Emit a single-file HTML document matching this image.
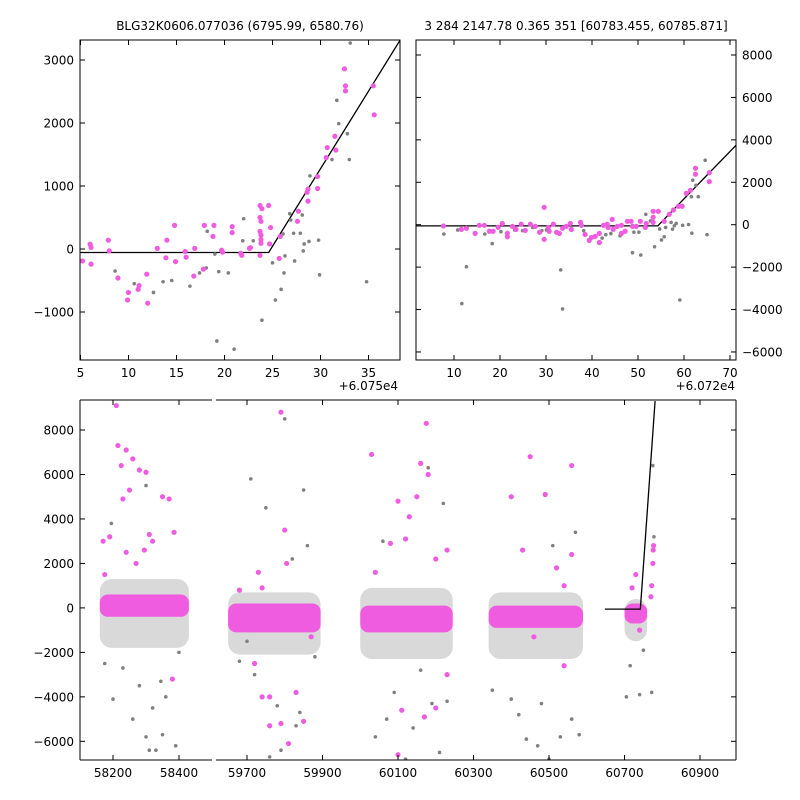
<!DOCTYPE html>
<html><head><meta charset="utf-8"><style>
body{margin:0;background:#fff}
svg{display:block;font-family:"DejaVu Sans","Liberation Sans",sans-serif}
text{font-size:12px;fill:#000}
</style></head><body>
<svg id="chart" width="800" height="800" viewBox="0 0 800 800" xmlns="http://www.w3.org/2000/svg">
<rect width="800" height="800" fill="#fff"/>
<text x="240" y="30" text-anchor="middle">BLG32K0606.077036 (6795.99, 6580.76)</text>
<text x="576" y="30" text-anchor="middle">3 284 2147.78 0.365 351 [60783.455, 60785.871]</text>
</svg>
<script>
// ---------- top-left panel data (x offset +6.075e4) ----------
const tlMagX=[5.2,6,6.1,6.1,7.9,8,8.9,10,9.9,11,11.1,11.9,12,13,13.9,14,14.8,14.9,15.9,16,16.9,16.8,17.8,17.9,18.8,18.9,19.7,19.8,20.8,20.8,21.7,21.8,22.6,22.7,23.7,23.9,23.7,23.8,23.7,23.8,23.8,23.8,23.7,24.6,24.8,24.7,25.8,25.7,27.7,27.6,28.7,28.6,28.7,29.7,29.7,30.6,30.7,31.5,31.6,32.5,32.6,32.6,35.5,35.6];
const tlMagY=[-190,75,25,-240,140,-30,-460,-690,-810,-640,-580,-400,-860,10,-140,140,375,-200,-40,-130,10,-430,-320,375,200,375,-20,-50,355,260,-70,-100,10,20,690,640,500,440,280,220,150,90,-100,690,340,80,200,-150,600,440,760,900,950,960,1150,1450,1610,1790,1570,2860,2590,2510,2590,2130];
const tlGreyX=[8.6,10.6,12.6,13.6,14.5,16.4,17.4,18.1,18.2,19,19.4,20.4,19.2,21,22,21.9,23,23.9,25,25.3,25.9,26.2,26.3,26.1,26.8,26.9,27.2,27.3,27.9,28.1,28.2,28.3,28.8,28.9,29.8,29.9,31.2,31.7,31.9,32.8,33,33.1,34.8,35.2];
const tlGreyY=[-350,-550,-690,-520,-500,-590,-380,-300,280,-80,-360,-380,-1460,-1590,480,130,130,-1130,-220,-810,-640,-380,-110,240,560,460,250,-190,250,540,-30,80,120,1160,140,-410,1420,2360,1990,1830,1420,3270,-520];
const tlLineX=[5,24.6,38.3];
const tlLineY=[-55,-55,3317];
// ---------- top-right panel data (x offset +6.072e4) ----------
const trMagX=[7.7,11.6,12.7,14.6,15.5,16.6,17.7,18.5,19.6,20.5,21.6,21.6,22.7,23.5,24.6,25.5,26.6,27.7,28.6,29.6,29.6,30.5,30.7,31.6,32.3,32.9,33.6,34.4,35.3,35.5,37.5,37.7,38.5,39.4,39.9,40.7,41.6,41.6,42.5,43.3,43.5,44.4,44.6,45.5,46.4,46.4,47.2,47.7,48.5,48.8,49.6,50.5,51.6,51.8,53.3,53.3,53.3,54.4,55.7,56.8,57.7,58.8,59.6,60.5,61.4,62.5,62.5,65.5,65.5];
const trMagY=[-60,-220,-170,-410,-30,-30,-310,-310,-120,60,-410,-570,-80,-220,20,-270,20,-80,-360,820,-690,-130,-310,20,-360,-410,-170,-80,60,-220,110,-30,-460,-740,-600,-550,-410,-840,-30,20,-130,250,-220,-80,-30,-410,-310,160,160,-80,-80,160,-130,60,630,350,110,630,160,490,690,870,870,1480,1620,2380,2660,2450,2030];
const trGreyX=[7.8,10.8,12.7,11.7,16.7,18.3,20.2,23.2,24.9,27.1,29.1,30.1,33.2,33.6,38.2,42.2,43,44.1,46.1,48.8,49.1,50.2,50.6,51.7,52.7,53.6,54.7,55.1,55.7,56,57.2,57.5,57.9,58.3,59.7,61,61.7,61.6,62.6,63.1,64.6,65,59.1,61.9];
const trGreyY=[-440,-250,-1980,-3720,-440,-890,-330,-250,-280,-130,-280,-250,-2130,-3970,-280,-630,-470,-420,-520,-1320,-350,-350,-1430,490,180,-1040,-200,-720,-570,-130,110,-210,-50,60,-30,10,-400,1320,1860,1320,3040,-470,-3550,2100];
const trLineX=[1.7,54.3,71.3];
const trLineY=[-55,-55,3740];
// ---------- bottom panel data ----------
const bMagX=[58170,58175,58210,58215,58225,58240,58230,58250,58260,58280,58300,58310,58295,58350,58370,58385,58320,58270,58240,58380,58190,
59680,59730,59740,59760,59790,59800,59805,59760,59790,59850,59830,59740,59720,59870,59810,
60030,60100,60130,60160,60175,60180,60200,60230,60080,60120,60150,60040,60110,60200,60230,60100,60170,
60400,60430,60450,60490,60520,60540,60560,60560,60460,60540,
60720,60730,60740,60770,60772,60775,60776,60777];
const bMagY=[3000,1500,9100,7300,6400,7100,4900,5300,6700,6200,6100,3300,2600,5000,4900,3400,3000,2000,2500,-3200,3200,
800,1600,900,-4000,8800,3500,2000,-5300,-5200,-5100,-3800,-4000,-2500,-1300,-6100,
6900,4800,4100,6500,8300,6000,2200,2600,2900,3100,5000,1600,-4600,-4500,-3000,-6600,-4900,
5000,2600,6800,5100,1800,1000,6400,2400,-1300,-2600,
900,1500,-1000,500,1000,2000,2600,2800];
const bGreyX=[58195,58200,58260,58300,58310,58330,58350,58390,58300,58230,58280,58360,58175,58400,58320,58345,
59710,59750,59800,59850,59820,59860,59680,59700,59760,59790,59830,59780,59720,59880,59840,
60040,60070,60090,60120,60180,60220,60140,60210,60230,60060,60160,60190,
60350,60400,60420,60440,60470,60500,60530,60560,60570,60580,60510,60480,
60705,60740,60750,60715,60772,60775,60778];
const bGreyY=[3800,-4100,-5000,-5800,-6400,-6400,-5700,-6200,5500,-2700,-3500,-4000,-2500,-2000,-4500,-3300,
5800,4500,8500,5300,2200,2800,-2400,-1500,-6700,-6400,-5300,-4400,-3000,-2200,-4700,
-5800,-5000,-3800,-6800,6300,4700,-5400,-6500,-4200,3000,-2800,-4300,
-3700,-4100,-4800,-5900,-6200,-6800,-5800,-5000,3400,-5700,2800,-4300,
-4000,-3900,-1900,-2600,-3800,6400,3200];
// dense clusters (observing seasons): x-extent and y-extent of the dense cores
const bandX0=[58160,59650,60000,60340,60700];
const bandX1=[58430,59895,60245,60590,60760];
const bandMagLo=[-400,-1100,-1100,-900,-700];
const bandMagHi=[600,200,100,100,200];
const bandGreyLo=[-1800,-2100,-2300,-2300,-1500];
const bandGreyHi=[1300,700,900,700,400];
const bLineX=[60648,60742,60781];
const bLineY=[-55,-55,9300];
const tlXTicks=[5,10,15,20,25,30,35], tlYTicks=[-1000,0,1000,2000,3000];
const trXTicks=[10,20,30,40,50,60,70], trYTicks=[-6000,-4000,-2000,0,2000,4000,6000,8000];
const bLXTicks=[58200,58400], bRXTicks=[59700,59900,60100,60300,60500,60700,60900];
const bYTicks=[-6000,-4000,-2000,0,2000,4000,6000,8000];

const svg=document.getElementById('chart');
const NS='http://www.w3.org/2000/svg';
function mk(tag,attrs,parent){const e=document.createElementNS(NS,tag);for(const k in attrs)e.setAttribute(k,attrs[k]);(parent||svg).appendChild(e);return e;}
function lin(d0,d1,r0,r1){return v=>r0+(v-d0)*(r1-r0)/(d1-d0);}
const MAG='#f05ce0', GREY='#808080';

function panel(name,x0,y0,w,h){
  const g=mk('g',{});
  
  
  const cid='clip-'+name;
  const cp=mk('clipPath',{id:cid},g);mk('rect',{x:x0,y:y0,width:w,height:h},cp);
  const plot=mk('g',{'clip-path':'url(#'+cid+')'},g);
  return {g,plot};
}
function dots(parent,xs,ys,sx,sy,color,r,name){
  for(let i=0;i<xs.length;i++){
    const c=mk('circle',{cx:sx(xs[i]),cy:sy(ys[i]),r:r,fill:color},parent);
    
    
  }
}
function line(parent,xs,ys,sx,sy,name){
  const p=mk('polyline',{points:xs.map((x,i)=>sx(x)+','+sy(ys[i])).join(' '),fill:'none',stroke:'#000','stroke-width':1.3},parent);
  
  
}
function xticks(g,ticks,sx,y0,y1,labels){
  ticks.forEach(t=>{const x=sx(t);
    mk('line',{x1:x,x2:x,y1:y1,y2:y1-5,stroke:'#000'},g);
    mk('line',{x1:x,x2:x,y1:y0,y2:y0+5,stroke:'#000'},g);
    if(labels){const tx=mk('text',{x:x,y:y1+17,'text-anchor':'middle'},g);tx.textContent=t;
      
      }
  });
}
function yticks(g,ticks,sy,x0,x1,side,ly0,ly1){
  ticks.forEach(t=>{const y=sy(t);
    if(ly0) mk('line',{x1:x0,x2:x0+5,y1:y,y2:y,stroke:'#000'},g);
    if(ly1) mk('line',{x1:x1,x2:x1-5,y1:y,y2:y,stroke:'#000'},g);
    if(side){const tx=mk('text',{x:side==='left'?x0-6:x1+6,y:y+4.5,'text-anchor':side==='left'?'end':'start'},g);
      tx.textContent=(t<0?'\u2212'+(-t):t);
      
      }
  });
}
// ---- top-left
{const x0=80,y0=40,w=320,h=320;
 const sx=lin(5,35,80.5,368.5), sy=lin(0,3000,249,60);
 const P=panel('top-left-zoom-panel',x0,y0,w,h);
 line(P.plot,tlLineX,tlLineY,sx,sy,'model-curve');
 dots(P.plot,tlGreyX,tlGreyY,sx,sy,GREY,1.8,'grey-point');
 dots(P.plot,tlMagX,tlMagY,sx,sy,MAG,2.6,'magenta-point');
 mk('rect',{x:x0,y:y0,width:w,height:h,fill:'none',stroke:'#000'},P.g);
 xticks(P.g,tlXTicks,sx,y0,y0+h,true);
 yticks(P.g,tlYTicks,sy,x0,x0+w,'left',true,true);
 const o=mk('text',{x:398,y:390,'text-anchor':'end'},P.g);o.textContent='+6.075e4';
 
 }
// ---- top-right
{const x0=416,y0=40,w=320,h=320;
 const sx=lin(10,70,454,730), sy=lin(0,8000,224.7,55);
 const P=panel('top-right-zoom-panel',x0,y0,w,h);
 line(P.plot,trLineX,trLineY,sx,sy,'model-curve');
 dots(P.plot,trGreyX,trGreyY,sx,sy,GREY,1.8,'grey-point');
 dots(P.plot,trMagX,trMagY,sx,sy,MAG,2.6,'magenta-point');
 mk('rect',{x:x0,y:y0,width:w,height:h,fill:'none',stroke:'#000'},P.g);
 xticks(P.g,trXTicks,sx,y0,y0+h,true);
 yticks(P.g,trYTicks,sy,x0,x0+w,'right',true,true);
 const o=mk('text',{x:735,y:390,'text-anchor':'end'},P.g);o.textContent='+6.072e4';
 
 }
// ---- bottom (broken x axis)
{const y0=400,h=360;
 const sy=lin(0,8000,607.9,430);
 const sxL=lin(58200,58400,113,179), sxR=lin(59700,59900,247,322.5);
 const segs=[{x0:80,x1:212,sx:sxL,ticks:bLXTicks,name:'bottom-left-segment'},{x0:216,x1:736,sx:sxR,ticks:bRXTicks,name:'bottom-right-segment'}];
 segs.forEach((s,si)=>{
  const P=panel(s.name,s.x0,y0,s.x1-s.x0,h);
  for(let i=0;i<bandX0.length;i++){
    const a=s.sx(bandX0[i]),b=s.sx(bandX1[i]);
    const gb=mk('rect',{x:a,y:sy(bandGreyHi[i]),width:b-a,height:sy(bandGreyLo[i])-sy(bandGreyHi[i]),rx:12,fill:GREY,opacity:0.3},P.plot);
    
    
    const mb=mk('rect',{x:a,y:sy(bandMagHi[i]),width:b-a,height:sy(bandMagLo[i])-sy(bandMagHi[i]),rx:8,fill:MAG},P.plot);
    
    
  }
  dots(P.plot,bGreyX,bGreyY,s.sx,sy,GREY,1.8,'grey-point');
  dots(P.plot,bMagX,bMagY,s.sx,sy,MAG,2.6,'magenta-point');
  line(P.plot,bLineX,bLineY,s.sx,sy,'model-curve');
  mk('line',{x1:s.x0,x2:s.x1,y1:y0,y2:y0,stroke:'#000'},P.g);
  mk('line',{x1:s.x0,x2:s.x1,y1:y0+h,y2:y0+h,stroke:'#000'},P.g);
  if(si===0) mk('line',{x1:s.x0,x2:s.x0,y1:y0,y2:y0+h,stroke:'#000'},P.g);
  else mk('line',{x1:s.x1,x2:s.x1,y1:y0,y2:y0+h,stroke:'#000'},P.g);
  xticks(P.g,s.ticks,s.sx,y0,y0+h,true);
  if(si===0) yticks(P.g,bYTicks,sy,s.x0,s.x1,'left',true,false);
  else yticks(P.g,bYTicks,sy,s.x0,s.x1,null,false,true);
 });}
</script>
</body></html>
